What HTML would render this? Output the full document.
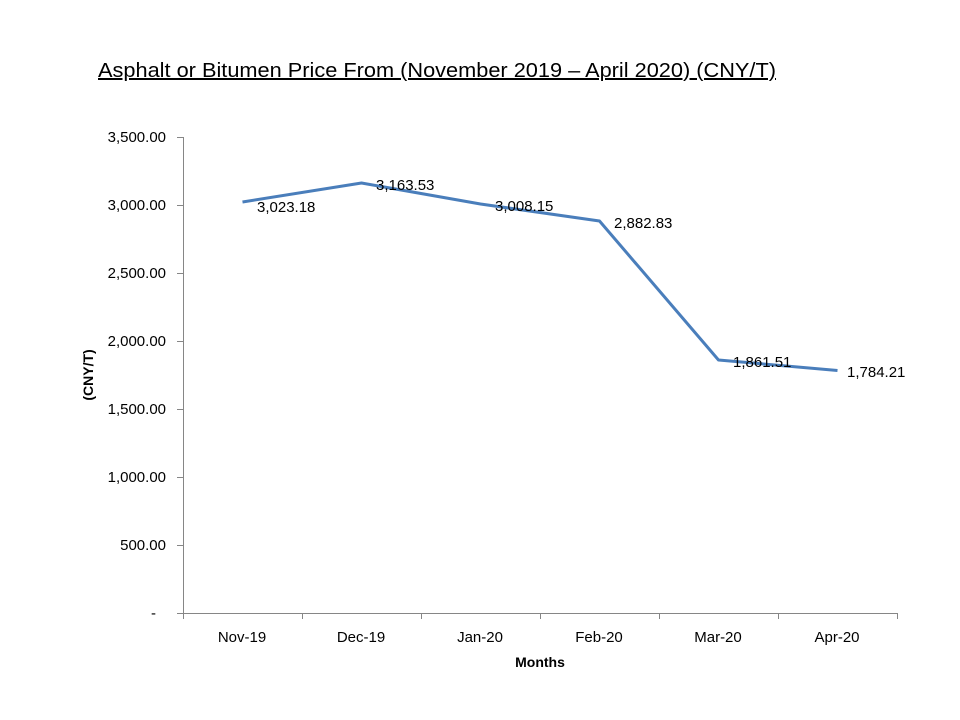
<!DOCTYPE html>
<html><head><style>body{margin:0;background:#fff}svg{display:block}</style></head><body>
<svg width="960" height="720" xmlns="http://www.w3.org/2000/svg" font-family="Liberation Sans, sans-serif">
<text x="98" y="77" font-size="20" fill="#000" text-decoration="underline" textLength="678" lengthAdjust="spacingAndGlyphs">Asphalt or Bitumen Price From (November 2019 – April 2020) (CNY/T)</text>
<g stroke="#868686" stroke-width="1" fill="none">
<line x1="183.5" y1="137" x2="183.5" y2="614"/>
<line x1="177" y1="613.5" x2="897" y2="613.5"/>
<line x1="177" y1="137.5" x2="183" y2="137.5"/>
<line x1="177" y1="205.5" x2="183" y2="205.5"/>
<line x1="177" y1="273.5" x2="183" y2="273.5"/>
<line x1="177" y1="341.5" x2="183" y2="341.5"/>
<line x1="177" y1="409.5" x2="183" y2="409.5"/>
<line x1="177" y1="477.5" x2="183" y2="477.5"/>
<line x1="177" y1="545.5" x2="183" y2="545.5"/>
<line x1="302.5" y1="613" x2="302.5" y2="619"/>
<line x1="421.5" y1="613" x2="421.5" y2="619"/>
<line x1="540.5" y1="613" x2="540.5" y2="619"/>
<line x1="659.5" y1="613" x2="659.5" y2="619"/>
<line x1="778.5" y1="613" x2="778.5" y2="619"/>
<line x1="897.5" y1="613" x2="897.5" y2="619"/>
<line x1="183.5" y1="613" x2="183.5" y2="619"/>
</g>
<g font-size="15" fill="#000" text-anchor="end">
<text x="166" y="142">3,500.00</text>
<text x="166" y="210">3,000.00</text>
<text x="166" y="278">2,500.00</text>
<text x="166" y="346">2,000.00</text>
<text x="166" y="414">1,500.00</text>
<text x="166" y="482">1,000.00</text>
<text x="166" y="550">500.00</text>
<text x="156" y="618">-</text>
</g>
<g font-size="15" fill="#000" text-anchor="middle">
<text x="242" y="642">Nov-19</text>
<text x="361" y="642">Dec-19</text>
<text x="480" y="642">Jan-20</text>
<text x="599" y="642">Feb-20</text>
<text x="718" y="642">Mar-20</text>
<text x="837" y="642">Apr-20</text>
<text x="540" y="667" font-weight="bold" font-size="14">Months</text>
</g>
<text transform="translate(93,375) rotate(-90)" font-size="14" font-weight="bold" text-anchor="middle">(CNY/T)</text>
<polyline points="242.5,202 361.5,183 480.5,204 599.5,221 718.5,360 837.5,370.5" fill="none" stroke="#4a7ebb" stroke-width="3" stroke-linejoin="round"/>
<g font-size="15" fill="#000">
<text x="257" y="212">3,023.18</text>
<text x="376" y="190">3,163.53</text>
<text x="495" y="211">3,008.15</text>
<text x="614" y="228">2,882.83</text>
<text x="733" y="367">1,861.51</text>
<text x="847" y="377">1,784.21</text>
</g>
</svg>
</body></html>
